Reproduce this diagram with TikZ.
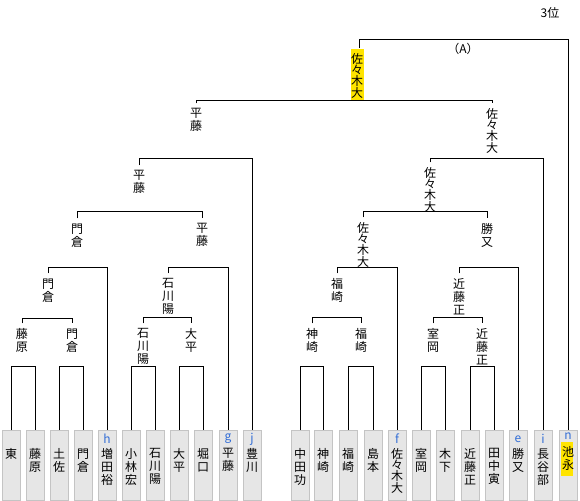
\documentclass[tikz,border=0pt]{standalone}
\usepackage{fontspec}
\setmainfont{Noto Sans CJK JP}
\definecolor{hl}{RGB}{255,228,0}
\definecolor{lk}{RGB}{51,110,214}
\definecolor{bxfill}{RGB}{230,230,230}
\definecolor{bxdraw}{RGB}{196,196,196}
\begin{document}
\begin{tikzpicture}[x=0.75pt,y=-0.75pt,line width=0.75pt,
  lbl/.style={anchor=north,inner sep=0pt,align=center,font=\fontsize{9}{9.75}\selectfont},
  tight/.style={anchor=north,inner sep=0pt,align=center,font=\fontsize{9}{8.25}\selectfont},
  leafbox/.style={draw=bxdraw,fill=bxfill,anchor=north,minimum width=13.5pt,minimum height=52.5pt,inner sep=0pt,line width=0.6pt},
  lettr/.style={text=lk,inner sep=0pt,font=\fontsize{9}{9.75}\selectfont},
  hlbox/.style={fill=hl,anchor=north,inner sep=0pt,draw=none}
]
\useasboundingbox (0,0) rectangle (580,500);
% ---------- leaf boxes ----------
\node[leafbox] (bL0) at (11,430) {};
\node[leafbox] (bL1) at (35,430) {};
\node[leafbox] (bL2) at (59,430) {};
\node[leafbox] (bL3) at (83,430) {};
\node[leafbox] (bL4) at (107,430) {};
\node[leafbox] (bL5) at (131,430) {};
\node[leafbox] (bL6) at (155,430) {};
\node[leafbox] (bL7) at (179,430) {};
\node[leafbox] (bL8) at (203,430) {};
\node[leafbox] (bL9) at (228,430) {};
\node[leafbox] (bL10) at (252,430) {};
\node[leafbox] (bR0) at (300,430) {};
\node[leafbox] (bR1) at (323,430) {};
\node[leafbox] (bR2) at (348,430) {};
\node[leafbox] (bR3) at (373,430) {};
\node[leafbox] (bR4) at (397,430) {};
\node[leafbox] (bR5) at (421,430) {};
\node[leafbox] (bR6) at (445,430) {};
\node[leafbox] (bR7) at (470,430) {};
\node[leafbox] (bR8) at (494,430) {};
\node[leafbox] (bR9) at (518,430) {};
\node[leafbox] (bR10) at (543,430) {};
\node[leafbox] (bR11) at (568,430) {};
\node[hlbox,minimum width=9pt,minimum height=26pt] (hlR11) at (567,441) {};
% ---------- leaf letters ----------
\node[lettr] (kL4) at (107,439) {h};
\node[lettr] (kL9) at (228,439) {g};
\node[lettr] (kL10) at (252,439) {j};
\node[lettr] (kR4) at (397,439) {f};
\node[lettr] (kR9) at (518,439) {e};
\node[lettr] (kR10) at (543,439) {i};
\node[lettr] (kR11) at (568,436) {n};
% ---------- leaf names ----------
\node[lbl] (tL0) at (11,448) {東};
\node[lbl] (tL1) at (35,448) {藤\\原};
\node[lbl] (tL2) at (59,448) {土\\佐};
\node[lbl] (tL3) at (83,448) {門\\倉};
\node[lbl] (tL4) at (107,448) {増\\田\\裕};
\node[lbl] (tL5) at (131,448) {小\\林\\宏};
\node[lbl] (tL6) at (155,448) {石\\川\\陽};
\node[lbl] (tL7) at (179,448) {大\\平};
\node[lbl] (tL8) at (203,448) {堀\\口};
\node[lbl] (tL9) at (228,448) {平\\藤};
\node[lbl] (tL10) at (252,448) {豊\\川};
\node[lbl] (tR0) at (300,448) {中\\田\\功};
\node[lbl] (tR1) at (323,448) {神\\崎};
\node[lbl] (tR2) at (348,448) {福\\崎};
\node[lbl] (tR3) at (373,448) {島\\本};
\node[tight] (tR4) at (397,448) {佐\\々\\木\\大};
\node[lbl] (tR5) at (421,448) {室\\岡};
\node[lbl] (tR6) at (445,448) {木\\下};
\node[lbl] (tR7) at (470,448) {近\\藤\\正};
\node[lbl] (tR8) at (494,448) {田\\中\\寅};
\node[lbl] (tR9) at (518,448) {勝\\又};
\node[lbl] (tR10) at (543,448) {長\\谷\\部};
\node[lbl] (tR11) at (568,446) {池\\永};
% ---------- winner labels ----------
\node[lbl] (A1) at (22,328) {藤\\原};
\node[lbl] (A2) at (72,328) {門\\倉};
\node[lbl] (A5) at (143,328) {石\\川\\陽};
\node[lbl] (A6) at (191,328) {大\\平};
\node[lbl] (B1) at (312,328) {神\\崎};
\node[lbl] (B2) at (361,328) {福\\崎};
\node[lbl] (B5) at (433,328) {室\\岡};
\node[lbl] (B6) at (482,328) {近\\藤\\正};
\node[lbl] (A3) at (48,278) {門\\倉};
\node[lbl] (A7) at (168,278) {石\\川\\陽};
\node[lbl] (B3) at (337,278) {福\\崎};
\node[lbl] (B7) at (459,278) {近\\藤\\正};
\node[lbl] (A4) at (77,223) {門\\倉};
\node[lbl] (A8) at (202,223) {平\\藤};
\node[tight] (B4) at (363,222) {佐\\々\\木\\大};
\node[lbl] (B8) at (487,223) {勝\\又};
\node[lbl] (A9) at (139,170) {平\\藤};
\node[tight] (B9) at (430,167) {佐\\々\\木\\大};
\node[lbl] (A10) at (196,108) {平\\藤};
\node[tight] (B10) at (492,108) {佐\\々\\木\\大};
\node[hlbox,minimum width=9.75pt,minimum height=39pt] (Fbg) at (357,48) {};
\node[tight] (F) at (357,53) {佐\\々\\木\\大};
% ---------- texts ----------
\node[inner sep=0pt,font=\fontsize{9}{9.75}\selectfont] (rank) at (550,13) {3位};
\node[inner sep=0pt,font=\fontsize{9}{9.75}\selectfont] (tagA) at (463,49) {（A）};
% ---------- first round rectangles ----------
\draw (bL0.north) -- (bL0.north |- 0,366) -| (bL1.north);
\draw (bL2.north) -- (bL2.north |- 0,366) -| (bL3.north);
\draw (bL5.north) -- (bL5.north |- 0,366) -| (bL6.north);
\draw (bL7.north) -- (bL7.north |- 0,366) -| (bL8.north);
\draw (bR0.north) -- (bR0.north |- 0,366) -| (bR1.north);
\draw (bR2.north) -- (bR2.north |- 0,366) -| (bR3.north);
\draw (bR5.north) -- (bR5.north |- 0,366) -| (bR6.north);
\draw (bR7.north) -- (bR7.north |- 0,366) -| (bR8.north);
% ---------- second round ----------
\draw ([yshift=3.5pt]A1.north) -- (A1.north |- 0,318) -| ([yshift=3.5pt]A2.north);
\draw ([yshift=3.5pt]A5.north) -- (A5.north |- 0,317) -| ([yshift=3.5pt]A6.north);
\draw ([yshift=3.5pt]B1.north) -- (B1.north |- 0,317) -| ([yshift=3.5pt]B2.north);
\draw ([yshift=3.5pt]B5.north) -- (B5.north |- 0,317) -| ([yshift=3.5pt]B6.north);
% ---------- third round ----------
\draw ([yshift=3.5pt]A3.north) -- (A3.north |- 0,267) -| (bL4.north);
\draw ([yshift=3.5pt]A7.north) -- (A7.north |- 0,267) -| (bL9.north);
\draw ([yshift=3.5pt]B3.north) -- (B3.north |- 0,267) -| (bR4.north);
\draw ([yshift=3.5pt]B7.north) -- (B7.north |- 0,267) -| (bR9.north);
% ---------- fourth round ----------
\draw ([yshift=3.5pt]A4.north) -- (A4.north |- 0,211) -| ([yshift=3.5pt]A8.north);
\draw ([yshift=3.5pt]B4.north) -- (B4.north |- 0,211) -| ([yshift=3.5pt]B8.north);
% ---------- fifth round ----------
\draw ([yshift=3.5pt]A9.north) -- (A9.north |- 0,158) -| (bL10.north);
\draw ([yshift=3.5pt]B9.north) -- (B9.north |- 0,158) -| (bR10.north);
% ---------- final ----------
\draw ([yshift=3.5pt]A10.north) -- (A10.north |- 0,100) -| ([yshift=3.5pt]B10.north);
% ---------- (A) match ----------
\draw ([xshift=1.5pt]Fbg.north) -- ([xshift=1.5pt]Fbg.north |- 0,39) -| (bR11.north);
\end{tikzpicture}
\end{document}
